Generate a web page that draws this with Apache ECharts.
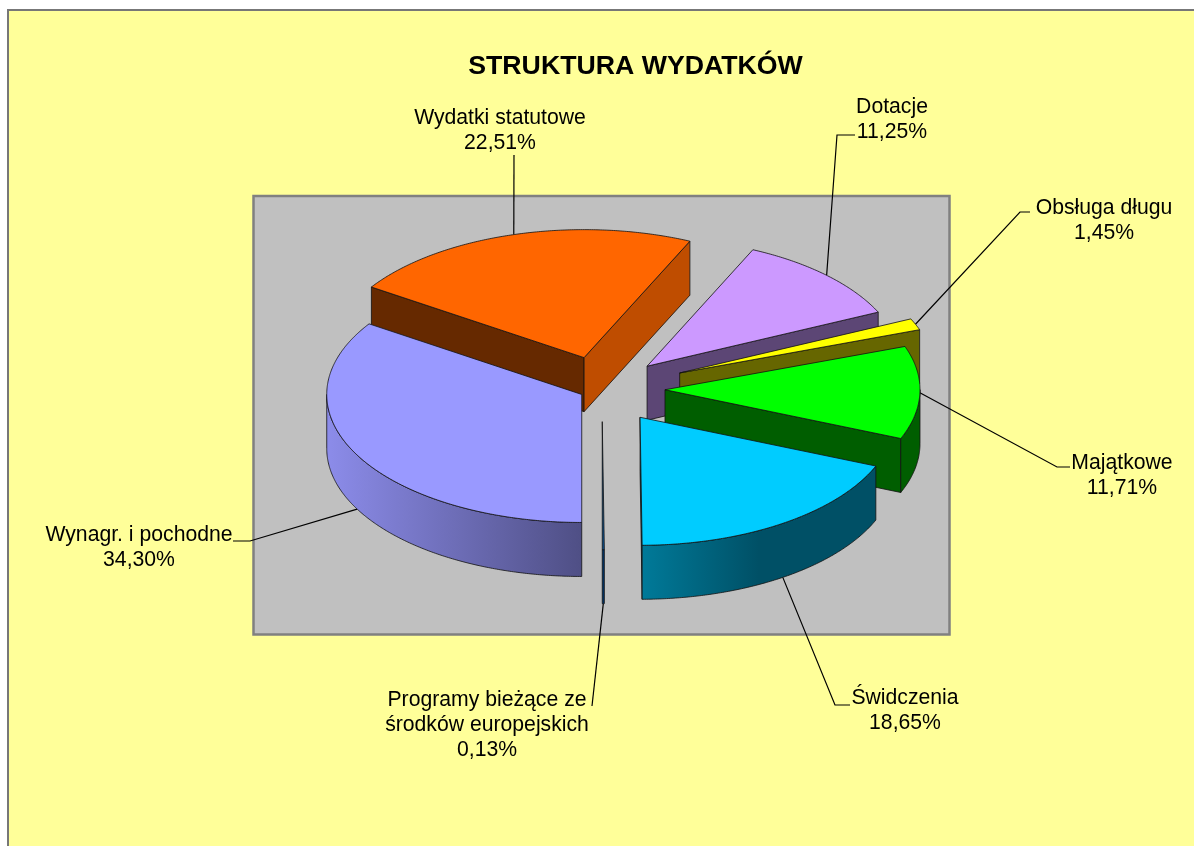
<!DOCTYPE html>
<html>
<head>
<meta charset="utf-8">
<title>Struktura wydatków</title>
<style>
  html, body { margin: 0; padding: 0; background: #fff; }
  #chart { width: 1194px; height: 846px; }
</style>
<script src="https://cdn.jsdelivr.net/npm/echarts@6/dist/echarts.min.js"></script>
</head>
<body>
<div id="chart"></div>
<script>
const chartTitle = 'STRUKTURA WYDATKÓW';

// data, clockwise, Wydatki statutowe first so the back slices get painted first
const categories = [
  'Wydatki statutowe',
  'Dotacje',
  'Obsługa długu',
  'Majątkowe',
  'Świdczenia',
  'Programy bieżące ze\nśrodków europejskich',
  'Wynagr. i pochodne',
];
const shares = [22.51, 11.25, 1.45, 11.71, 18.65, 0.13, 34.3];

// slice colours
const topColors = ['#FF6600', '#CC99FF', '#FFFF00', '#00FF00', '#00CCFF', '#0B4F8C', '#9999FF'];
const startWallColors = ['#662900', '#5C4675', '#666600', '#005E00', '#005066', '#003366', '#4F4F85'];
const endWallColors = ['#BF4D00', '#5C4675', '#666600', '#005E00', '#005066', '#003366', '#4F4F85'];
const rimColors = [
  ['#BF4D00', '#BF4D00'],
  ['#5C4675', '#5C4675'],
  ['#666600', '#666600'],
  ['#005E00', '#005E00'],
  ['#007A99', '#005066', '#005066'],
  ['#003366', '#003366'],
  ['#8C8CEA', '#4F4F85'],
];

// pixels each slice is pulled out of the pie
const explode = [65, 64, 84, 63, 68, 65, 23];

// label centre and the leader's elbow points, label end first
const labelCenters = [[500, 131], [892, 120], [1104, 221], [1122, 476], [905, 711], [487, 725], [139, 548]];
const leaderStarts = [
  [[514, 155]],
  [[855, 135], [837, 135]],
  [[1030, 212], [1020, 212]],
  [[1070, 467], [1057, 467]],
  [[850, 705], [835, 705]],
  [[592, 706]],
  [[233, 541], [250, 541]],
];

const pieCx = 602;
const pieCy = 389;
const rx = 255;
const ry = 128;
const thickness = 54;
const firstAngle = 303.48; // degrees clockwise from 12 o'clock
const squash = ry / rx;
const labelFont = '21.2px "Liberation Sans", Arial, sans-serif';

const rad = deg => (deg * Math.PI) / 180;

// angle ranges built from the shares
let running = firstAngle;
const slices = shares.map((share, i) => {
  const start = running % 360;
  const end = start + (share / 100) * 360;
  running += (share / 100) * 360;
  const mid = rad((start + end) / 2);
  return {
    start,
    end,
    cx: pieCx + explode[i] * Math.sin(mid),
    cy: pieCy - explode[i] * squash * Math.cos(mid),
  };
});

const rimPoint = (s, deg, drop) => [
  s.cx + rx * Math.sin(rad(deg)),
  s.cy - ry * Math.cos(rad(deg)) + (drop || 0),
];

const arcPoints = (s, from, to, drop) => {
  const pts = [];
  const steps = Math.max(2, Math.ceil(Math.abs(to - from) / 0.5));
  for (let k = 0; k <= steps; k++) {
    pts.push(rimPoint(s, from + ((to - from) * k) / steps, drop));
  }
  return pts;
};

const edgeStyle = { stroke: '#111', lineWidth: 0.8 };

const renderSlice = (params, api) => {
  const i = api.value(0);
  const s = slices[i];
  const children = [];
  const poly = (points, fill) =>
    children.push({
      type: 'polygon',
      shape: { points },
      style: Object.assign({ fill }, edgeStyle),
    });
  const wall = (deg, fill) => {
    const a = rimPoint(s, deg);
    const b = rimPoint(s, deg, thickness);
    poly([[s.cx, s.cy], a, b, [s.cx, s.cy + thickness]], fill);
  };

  // walls of the cuts, only those turned to the viewer
  if (Math.sin(rad(s.start)) < 0) wall(s.start, startWallColors[i]);
  if (Math.sin(rad(s.end)) > 0) wall(s.end, endWallColors[i]);

  // outer rim, the front half of the ellipse only. Colours run left to right
  const from = Math.max(s.start, 90);
  const to = Math.min(s.end, 270);
  if (to > from) {
    const stops = rimColors[i];
    poly(arcPoints(s, from, to).concat(arcPoints(s, to, from, thickness)), {
      type: 'linear',
      x: 0,
      y: 0,
      x2: 1,
      y2: 0,
      colorStops: stops.map((color, n) => ({ offset: n / (stops.length - 1), color })),
    });
  }

  // top face
  poly([[s.cx, s.cy]].concat(arcPoints(s, s.start, s.end)), topColors[i]);

  return { type: 'group', children };
};

const renderLabel = (params, api) => {
  const i = api.value(0);
  const s = slices[i];
  const mid = (s.start + s.end) / 2;
  // leaders well into the front half touch the bottom of the rim
  const drop = Math.cos(rad(mid)) < -0.1 ? thickness : 0;
  const points = leaderStarts[i].concat([rimPoint(s, mid, drop)]);
  return {
    type: 'group',
    children: [
      {
        type: 'polyline',
        shape: { points },
        style: { stroke: '#000', lineWidth: 1.2, fill: null },
      },
      {
        type: 'text',
        x: labelCenters[i][0],
        y: labelCenters[i][1],
        style: {
          text: categories[i] + '\n' + shares[i].toFixed(2).replace('.', ',') + '%',
          font: labelFont,
          fill: '#000',
          align: 'center',
          verticalAlign: 'middle',
          lineHeight: 25,
        },
      },
    ],
  };
};

const chartData = {
  animation: false,
  backgroundColor: '#fff',
  title: {
    text: chartTitle,
    left: 630.5,
    top: 48,
    textAlign: 'center',
    textStyle: {
      fontFamily: '"Liberation Sans", Arial, sans-serif',
      fontWeight: 'bold',
      fontSize: 26.7,
      color: '#000',
    },
  },
  graphic: [
    {
      type: 'rect',
      z: 0,
      shape: { x: 8, y: 10, width: 1300, height: 1000 },
      style: { fill: '#FFFF99', stroke: '#777', lineWidth: 2 },
    },
    {
      type: 'rect',
      z: 1,
      shape: { x: 253.5, y: 196, width: 696, height: 438.5 },
      style: { fill: '#C0C0C0', stroke: '#808080', lineWidth: 2.5 },
    },
  ],
  series: [
    {
      type: 'custom',
      coordinateSystem: 'none',
      z: 3,
      silent: true,
      data: categories.map((c, i) => [i]),
      renderItem: renderSlice,
    },
    {
      type: 'custom',
      coordinateSystem: 'none',
      z: 2,
      silent: true,
      data: categories.map((c, i) => [i]),
      renderItem: renderLabel,
    },
  ],
};

const chart = echarts.init(document.getElementById('chart'), null, { renderer: 'canvas' });
chart.setOption(chartData);
</script>
</body>
</html>
